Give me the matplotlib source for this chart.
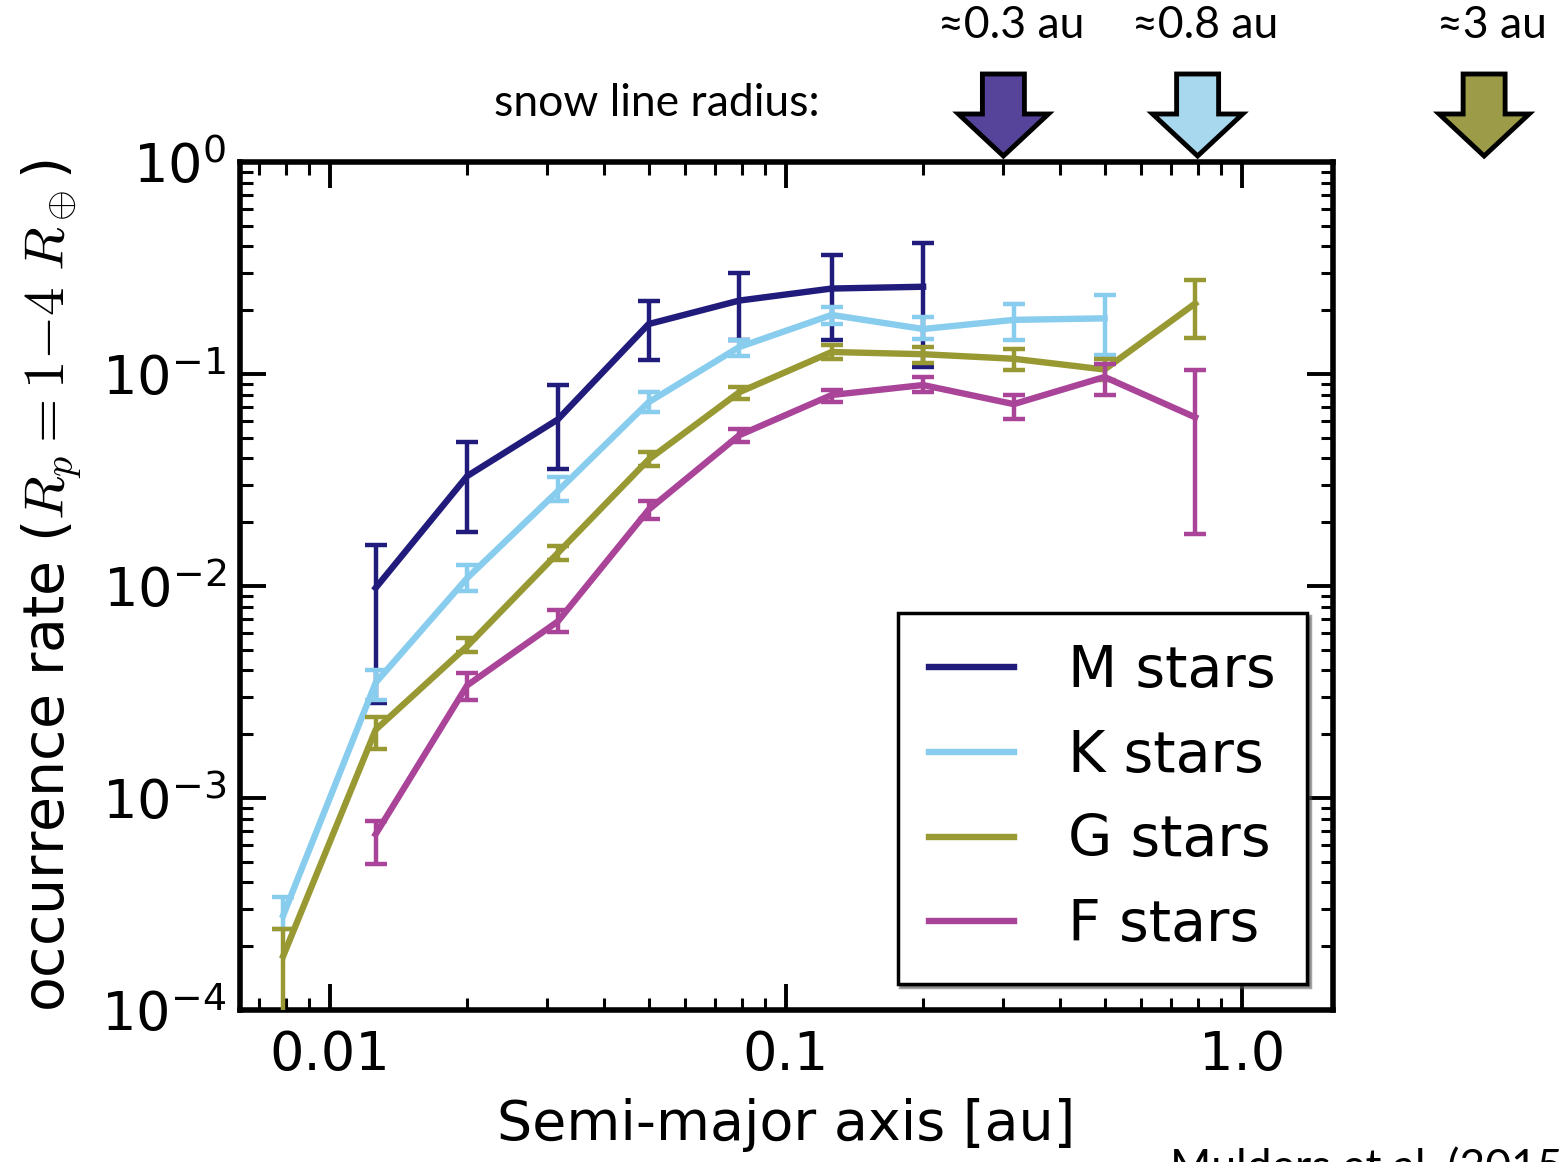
import numpy as np
import matplotlib
matplotlib.use('Agg')
import matplotlib.pyplot as plt
from matplotlib.patches import Polygon
from matplotlib.ticker import LogLocator, NullFormatter

# ── data ────────────────────────────────────────────────────────────────────
a_bins = [0.0079, 0.0126, 0.020, 0.0316, 0.050, 0.079, 0.126, 0.20, 0.316, 0.50, 0.79]

m_a = a_bins[1:8]
m_rate = [0.0098, 0.033, 0.061, 0.172, 0.222, 0.253, 0.258]
m_hi = [0.0156, 0.048, 0.089, 0.222, 0.298, 0.366, 0.413]
m_lo = [0.0028, 0.018, 0.0355, 0.116, 0.145, 0.145, 0.108]

k_a = a_bins[0:10]
k_rate = [2.8e-4, 0.0035, 0.0109, 0.028, 0.0736, 0.134, 0.190, 0.163, 0.180, 0.183]
k_hi = [3.4e-4, 0.0040, 0.0126, 0.0325, 0.082, 0.145, 0.207, 0.186, 0.214, 0.236]
k_lo = [2.4e-4, 0.0029, 0.0095, 0.0253, 0.066, 0.121, 0.172, 0.147, 0.145, 0.123]

g_a = a_bins[0:11]
g_rate = [1.8e-4, 0.0021, 0.0052, 0.0143, 0.0395, 0.082, 0.127, 0.124, 0.118, 0.105, 0.215]
g_hi = [2.4e-4, 0.0024, 0.0057, 0.0155, 0.0427, 0.0868, 0.137, 0.134, 0.131, 0.118, 0.279]
g_lo = [5e-5, 0.0017, 0.0049, 0.0132, 0.037, 0.0763, 0.118, 0.113, 0.105, 0.094, 0.148]

f_a = a_bins[1:11]
f_rate = [6.75e-4, 0.0034, 0.0068, 0.0229, 0.0514, 0.0796, 0.0887, 0.0721, 0.0968, 0.0625]
f_hi = [7.8e-4, 0.0039, 0.0077, 0.0253, 0.0549, 0.084, 0.0968, 0.0796, 0.112, 0.105]
f_lo = [4.9e-4, 0.0029, 0.0061, 0.0206, 0.0476, 0.0736, 0.082, 0.0612, 0.080, 0.0176]

labels = ['M stars', 'K stars', 'G stars', 'F stars']
colors = ['#211c7c', '#88ccee', '#999933', '#aa4499']

x_ticks = [0.01, 0.1, 1.0]
x_ticklabels = ['0.01', '0.1', '1.0']

snow_labels = ['≈0.3 au', '≈0.8 au', '≈3 au']
arrow_at = [0.3, 0.8, 3.4]          # where the arrows sit on the x axis
arrow_colors = ['#554499', '#a8d8ee', '#9c9c48']

# ── figure ──────────────────────────────────────────────────────────────────
W, H = 1562, 1162
fig = plt.figure(figsize=(W / 100, H / 100), dpi=100)
ax = fig.add_axes([240 / W, 1 - 1010 / H, (1333 - 240) / W, (1010 - 162) / H])

series = [(m_a, m_rate, m_hi, m_lo), (k_a, k_rate, k_hi, k_lo),
          (g_a, g_rate, g_hi, g_lo), (f_a, f_rate, f_hi, f_lo)]
handles = []
for i, (a, r, hi, lo) in enumerate(series):
    r = np.array(r)
    yerr = [r - np.array(lo), np.array(hi) - r]
    eb = ax.errorbar(a, r, yerr=yerr, color=colors[i], lw=4.6,
                     elinewidth=3.2, capsize=8, capthick=3.2, zorder=2 + i)
    handles.append(eb[0])

ax.set_xscale('log')
ax.set_yscale('log')
ax.set_xlim(0.00635, 1.585)
ax.set_ylim(1e-4, 1)
ax.set_xticks(x_ticks, x_ticklabels)
ax.xaxis.set_minor_locator(LogLocator(base=10, subs=np.arange(2, 10)))
ax.xaxis.set_minor_formatter(NullFormatter())
ax.yaxis.set_minor_locator(LogLocator(base=10, subs=np.arange(2, 10), numticks=20))
ax.yaxis.set_minor_formatter(NullFormatter())

ax.tick_params(which='both', direction='in', top=True, right=True)
ax.tick_params(which='major', length=19, width=2.8, labelsize=39)
ax.tick_params(which='minor', length=9, width=2.2)
ax.tick_params(axis='x', which='major', pad=14)
ax.tick_params(axis='y', which='major', pad=10)
for s in ax.spines.values():
    s.set_linewidth(4)

ax.set_xlabel('Semi-major axis [au]', fontsize=40, labelpad=12)
ax.set_ylabel(r'occurrence rate ($R_p{=}1{-}4\ R_\oplus$)', fontsize=41,
              labelpad=12, math_fontfamily='cm')

leg = ax.legend(handles, labels, loc='lower right', fontsize=41,
                handlelength=1.5, handletextpad=0.95, labelspacing=0.52,
                borderpad=0.55, borderaxespad=0.45, fancybox=False, shadow=True,
                edgecolor='black', framealpha=1)
leg.get_frame().set_linewidth(2.5)

# ── snow line arrows ────────────────────────────────────────────────────────
ann_font = ['Lato', 'DejaVu Sans']
fig.text(820 / W, 1 - 103 / H, 'snow line radius:', ha='right', va='center',
         fontsize=32, family=ann_font)

for xv, lab, col in zip(arrow_at, snow_labels, arrow_colors):
    cx = ax.transData.transform((xv, 1.0))[0]
    top, head, tip = 74, 114, 156
    sw, hw = 21, 45
    verts = [(cx - sw, top), (cx + sw, top), (cx + sw, head), (cx + hw, head),
             (cx, tip), (cx - hw, head), (cx - sw, head)]
    verts = [(vx / W, 1 - vy / H) for vx, vy in verts]
    fig.add_artist(Polygon(verts, closed=True, facecolor=col, edgecolor='black',
                           lw=3.5, joinstyle='miter', transform=fig.transFigure))
    fig.text((cx + 8) / W, 1 - 26 / H, lab, ha='center', va='center',
             fontsize=32, family=ann_font)

fig.text(1170 / W, 1 - 1148 / H, 'Mulders et al. (2015)', ha='left', va='top',
         fontsize=32, family=ann_font)

fig.savefig('out.png', dpi=100, facecolor='white')
